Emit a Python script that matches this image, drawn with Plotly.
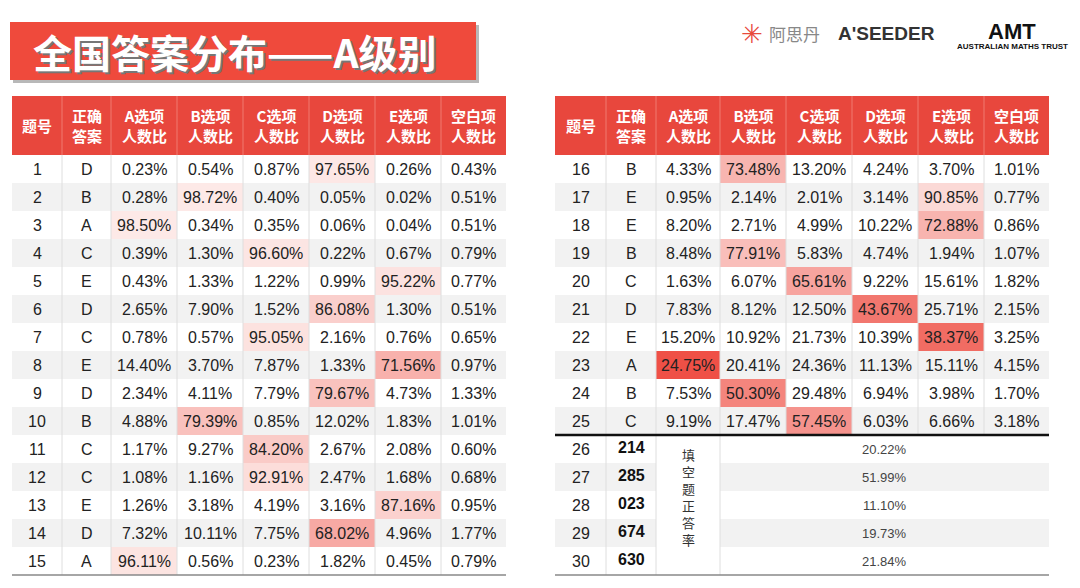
import plotly.graph_objects as go

headers = ["题号", "正确<br>答案", "A选项<br>人数比", "B选项<br>人数比", "C选项<br>人数比", "D选项<br>人数比", "E选项<br>人数比", "空白项<br>人数比"]
q_nums = list(range(1, 26))
answers = list("DBACEDCEDBCCEDA" + "BEEBCDEABC")
pctA = [0.23,0.28,98.50,0.39,0.43,2.65,0.78,14.40,2.34,4.88,1.17,1.08,1.26,7.32,96.11,
        4.33,0.95,8.20,8.48,1.63,7.83,15.20,24.75,7.53,9.19]
pctB = [0.54,98.72,0.34,1.30,1.33,7.90,0.57,3.70,4.11,79.39,9.27,1.16,3.18,10.11,0.56,
        73.48,2.14,2.71,77.91,6.07,8.12,10.92,20.41,50.30,17.47]
pctC = [0.87,0.40,0.35,96.60,1.22,1.52,95.05,7.87,7.79,0.85,84.20,92.91,4.19,7.75,0.23,
        13.20,2.01,4.99,5.83,65.61,12.50,21.73,24.36,29.48,57.45]
pctD = [97.65,0.05,0.06,0.22,0.99,86.08,2.16,1.33,79.67,12.02,2.67,2.47,3.16,68.02,1.82,
        4.24,3.14,10.22,4.74,9.22,43.67,10.39,11.13,6.94,6.03]
pctE = [0.26,0.02,0.04,0.67,95.22,1.30,0.76,71.56,4.73,1.83,2.08,1.68,87.16,4.96,0.45,
        3.70,90.85,72.88,1.94,15.61,25.71,38.37,15.11,3.98,6.66]
pctBlank = [0.43,0.51,0.51,0.79,0.77,0.51,0.65,0.97,1.33,1.01,0.60,0.68,0.95,1.77,0.79,
            1.01,0.77,0.86,1.07,1.82,2.15,3.25,4.15,1.70,3.18]
fill_nums = [26, 27, 28, 29, 30]
fill_answers = ["214", "285", "023", "674", "630"]
fill_rates = [20.22, 51.99, 11.10, 19.73, 21.84]
fill_label = "填<br>空<br>题<br>正<br>答<br>率"
title = "全国答案分布——A级别"

RED = "#e8473d"
fig = go.Figure()
shapes, ann = [], []

def rect(x0, y0, x1, y1, color, line=None):
    shapes.append(dict(type="rect", x0=x0, x1=x1, y0=y0, y1=y1, fillcolor=color,
                       line=dict(width=0) if line is None else line, layer="below"))

def txt(x, y, s, size=16, color="#222", bold=False, family="Liberation Sans, Arial"):
    ann.append(dict(x=x, y=y, text=("<b>%s</b>" % s) if bold else s, showarrow=False,
                    font=dict(size=size, color=color, family=family), xanchor="center", yanchor="middle"))

def shade(p):
    t = max(0.0, min(1.0, (100 - p) / 75.0))
    c0 = (253, 236, 234); c1 = (239, 80, 70)
    return "rgb(%d,%d,%d)" % tuple(round(a + (b - a) * t) for a, b in zip(c0, c1))

left_cols = [12, 62, 111, 177, 243, 309, 375, 441, 506]
right_cols = [555, 606, 656, 720, 786, 852, 918, 984, 1049]
HTOP, HBOT, RH = 96, 155, 28
FONT_CJK = "Noto Sans CJK SC"

for cols, idxs in [(left_cols, range(0, 15)), (right_cols, range(15, 25))]:
    rect(cols[0], HTOP, cols[-1], HBOT, RED)
    for j, h in enumerate(headers):
        txt((cols[j] + cols[j + 1]) / 2, (HTOP + HBOT) / 2, h, 15, "white", True, FONT_CJK)
        if j > 0:
            shapes.append(dict(type="line", x0=cols[j], x1=cols[j], y0=HTOP, y1=HBOT, line=dict(color="#f07a70", width=1)))
    for r, i in enumerate(idxs):
        y0 = HBOT + r * RH; y1 = y0 + RH; yc = (y0 + y1) / 2
        rect(cols[0], y0, cols[-1], y1, "#f2f2f2" if r % 2 else "white")
        vals = [pctA[i], pctB[i], pctC[i], pctD[i], pctE[i], pctBlank[i]]
        ci = "ABCDE".index(answers[i])
        rect(cols[2 + ci], y0, cols[3 + ci], y1, shade(vals[ci]))
        txt((cols[0] + cols[1]) / 2, yc, str(q_nums[i]))
        txt((cols[1] + cols[2]) / 2, yc, answers[i])
        for k, v in enumerate(vals):
            txt((cols[2 + k] + cols[3 + k]) / 2, yc, "%.2f%%" % v)
    nrows = len(idxs)
    for j in range(1, 8):
        shapes.append(dict(type="line", x0=cols[j], x1=cols[j], y0=HBOT, y1=HBOT + nrows * RH, line=dict(color="#dedede", width=1)))

shapes.append(dict(type="line", x0=left_cols[0], x1=left_cols[-1], y0=HBOT + 15 * RH, y1=HBOT + 15 * RH, line=dict(color="#888", width=1.5)))

c = right_cols
FT = HBOT + 10 * RH
for r in range(5):
    y0 = FT + r * RH; y1 = y0 + RH; yc = (y0 + y1) / 2
    rect(c[0], y0, c[-1], y1, "#f2f2f2" if r % 2 else "white")
    txt((c[0] + c[1]) / 2, yc, str(fill_nums[r]))
    txt((c[1] + c[2]) / 2, yc - 2, fill_answers[r], 16, "#111", True)
    txt((c[3] + c[-1]) / 2, yc, "%.2f%%" % fill_rates[r], 13, "#444")
rect(c[2], FT, c[3], FT + 5 * RH, "white")
txt((c[2] + c[3]) / 2, FT + 2.5 * RH - 8, fill_label, 13, "#333", False, FONT_CJK)
for xx in [c[1], c[2], c[3]]:
    shapes.append(dict(type="line", x0=xx, x1=xx, y0=FT, y1=FT + 5 * RH, line=dict(color="#dedede", width=1)))
shapes.append(dict(type="line", x0=c[0], x1=c[-1], y0=FT, y1=FT, line=dict(color="#111", width=2.5)))
shapes.append(dict(type="line", x0=c[0], x1=c[-1], y0=FT + 5 * RH, y1=FT + 5 * RH, line=dict(color="#888", width=1.5)))

rect(13, 25, 479, 83, "#b8b8b8")
rect(10, 22, 476, 80, "#ef4a3c")
txt(236, 53, title, 39, "#777", True, FONT_CJK)
txt(234, 51, title, 39, "white", True, FONT_CJK)

txt(752, 34, "✳", 26, "#e84a3c")
txt(794, 33, "阿思丹", 17, "#888", False, FONT_CJK)
txt(886, 33, "A'SEEDER", 19, "#333", True, "Liberation Sans Narrow, Arial")
txt(1012, 31, "AMT", 22, "#111", True)
txt(1012, 46, "AUSTRALIAN MATHS TRUST", 8, "#111", True)

# page body has an 8px margin; shift axis ranges so coordinates match the window
fig.update_layout(width=1080, height=588, margin=dict(l=0, r=0, t=0, b=0),
                  paper_bgcolor="white", plot_bgcolor="white", shapes=shapes, annotations=ann,
                  xaxis=dict(range=[8, 1088], visible=False, fixedrange=True),
                  yaxis=dict(range=[596, 8], visible=False, fixedrange=True), showlegend=False)
fig.write_html("out.html")
